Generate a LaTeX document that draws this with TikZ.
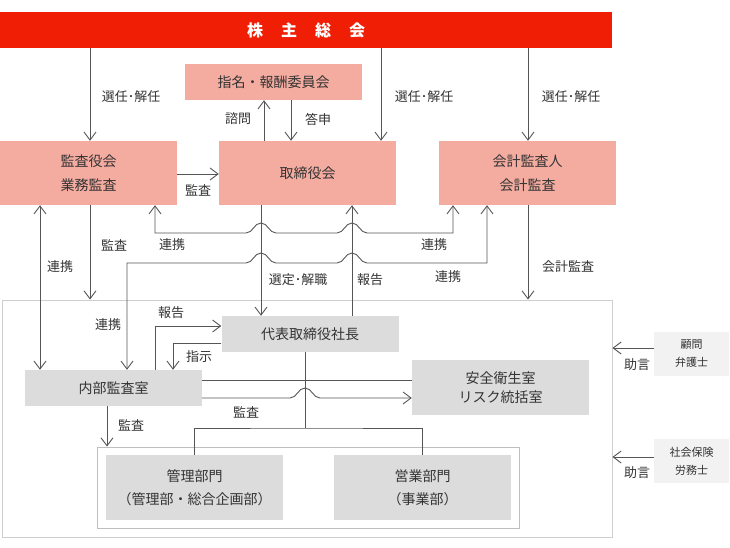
\documentclass[tikz,border=0pt]{standalone}
\usepackage{fontspec}
\setmainfont{Noto Sans CJK JP}
\usetikzlibrary{arrows.meta}

\definecolor{soukaired}{RGB}{240,30,4}
\definecolor{boardpink}{RGB}{244,172,160}
\definecolor{boxgray}{RGB}{220,220,220}
\definecolor{palegray}{RGB}{242,242,242}
\definecolor{linegray}{RGB}{85,85,85}
\definecolor{framegray}{RGB}{206,206,206}
\definecolor{innergray}{RGB}{190,190,190}
\definecolor{txt}{RGB}{51,51,51}

\begin{document}
\begin{tikzpicture}[x=1pt, y=-1pt,
	>={Straight Barb[length=8pt,width=12pt]},
	line/.style={draw=linegray, line width=0.9pt},
	arr/.style={line, ->},
	arr2/.style={line, <->},
	soukai/.style={fill=soukaired, text=white, minimum width=612pt, minimum height=36pt, inner sep=0pt, font=\fontsize{16}{18}\selectfont\bfseries},
	pinkbox/.style={fill=boardpink, text=txt, align=center, minimum width=177pt, minimum height=64pt, inner sep=0pt, font=\fontsize{14}{24}\selectfont},
	graybox/.style={fill=boxgray, text=txt, align=center, minimum width=177pt, minimum height=36pt, inner sep=0pt, font=\fontsize{14}{23}\selectfont},
	advbox/.style={fill=palegray, text=txt, align=center, minimum width=75pt, minimum height=44pt, inner sep=0pt, font=\fontsize{11}{18}\selectfont},
	frame/.style={draw=framegray, line width=0.9pt, inner sep=0pt},
	lbl/.style={text=txt, inner sep=0pt, font=\fontsize{13}{15}\selectfont}]

	\useasboundingbox (0,0) rectangle (730,548);

	% top level
	\node[soukai] (soukai) at (306,30) {株\hspace{18pt}主\hspace{18pt}総\hspace{18pt}会};
	\node[pinkbox, minimum height=36pt] (iinkai) at (273.5,82) {指名・報酬委員会};
	\node[pinkbox] (kansayaku) at (88.5,173) {監査役会\\業務監査};
	\node[pinkbox] (torishimari) at (307.5,173) {取締役会};
	\node[pinkbox] (kaikei) at (527.5,173) {会計監査人\\会計監査};

	% company frames
	\node[frame, minimum width=610pt, minimum height=237pt] (shanai) at (307,418.5) {};
	\node[frame, draw=innergray, minimum width=422pt, minimum height=81pt] (bumon) at (308,487.5) {};

	\node[graybox] (shacho) at (310,334) {代表取締役社長};
	\node[graybox] (naibu) at (113.5,388) {内部監査室};
	\node[graybox, minimum height=55pt, font=\fontsize{14}{19}\selectfont] (anzen) at (500.5,387.5) {安全衛生室\\リスク統括室};
	\node[graybox, minimum height=65pt] (kanri) at (194.5,487.5) {管理部門\\（管理部・総合企画部）};
	\node[graybox, minimum height=65pt] (eigyo) at (422.5,487.5) {営業部門\\（事業部）};

	% advisers
	\node[advbox] (komon) at (691.5,354) {顧問\\弁護士};
	\node[advbox] (sharoushi) at (691.5,461) {社会保険\\労務士};

	% shareholders
	\draw[arr] (soukai.south -| 90,0) -- (kansayaku.north -| 90,0);
	\draw[arr] (soukai.south -| 381,0) -- (torishimari.north -| 381,0);
	\draw[arr] (soukai.south -| 528,0) -- (kaikei.north -| 528,0);
	\node[lbl] (sennin1) at (131,97) {選任･解任};
	\node[lbl] (sennin2) at (424,97) {選任･解任};
	\node[lbl] (sennin3) at (571,97) {選任･解任};

	% committee
	\draw[arr] (torishimari.north -| 264,0) -- (iinkai.south -| 264,0);
	\draw[arr] (iinkai.south -| 291,0) -- (torishimari.north -| 291,0);
	\node[lbl] (shimon) at (238,119) {諮問};
	\node[lbl] (toushin) at (318,119) {答申};

	\draw[arr] (kansayaku.east |- 0,174) -- (torishimari.west |- 0,174);
	\node[lbl] (kansa1) at (198,190) {監査};

	% cooperation
	\draw[arr2] (kansayaku.south -| 40,0) -- (naibu.north -| 40,0);
	\node[lbl] (renkei1) at (60,267) {連携};
	\draw[arr] (kansayaku.south -| 90,0) -- (shanai.north -| 90,0);
	\node[lbl] (kansa2) at (114,245) {監査};

	\draw[arr2] (kansayaku.south -| 155,0) |- (246,233)
		to[out=0,in=180] ++(15,-10) to[out=0,in=180] ++(15,10) -- (337,233)
		to[out=0,in=180] ++(15,-10) to[out=0,in=180] ++(15,10) -| (kaikei.south -| 453,0);
	\node[lbl] (renkei2) at (172,245) {連携};
	\node[lbl] (renkei3) at (434,245) {連携};

	\draw[arr2] (naibu.north -| 127,0) |- (246,263)
		to[out=0,in=180] ++(15,-10) to[out=0,in=180] ++(15,10) -- (337,263)
		to[out=0,in=180] ++(15,-10) to[out=0,in=180] ++(15,10) -| (kaikei.south -| 487,0);
	\node[lbl] (renkei4) at (448,277) {連携};
	\node[lbl] (renkei5) at (108,325) {連携};

	% board and president
	\draw[arr] (torishimari.south -| 261,0) -- (shacho.north -| 261,0);
	\draw[arr] (shacho.north -| 352,0) -- (torishimari.south -| 352,0);
	\node[lbl] (sentei) at (298,280) {選定･解職};
	\node[lbl] (houkoku1) at (370,280) {報告};

	\draw[arr] (kaikei.south -| 528,0) -- (shanai.north -| 528,0);
	\node[lbl] (kaikeikansa) at (568,267) {会計監査};

	% internal audit
	\draw[arr] (naibu.north -| 155,0) |- (shacho.west |- 0,326);
	\node[lbl] (houkoku2) at (171,313) {報告};
	\draw[arr] (shacho.west |- 0,343) -| (naibu.north -| 173,0);
	\node[lbl] (shiji) at (199,357) {指示};

	\draw[line] (naibu.east |- 0,380) -- (anzen.west |- 0,380);
	\draw[arr] (naibu.east |- 0,398) -- (290,398)
		to[out=0,in=180] ++(15,-10) to[out=0,in=180] ++(15,10) -- (anzen.west |- 0,398);
	\node[lbl] (kansa3) at (246,412) {監査};
	\draw[arr] (naibu.south -| 107,0) -- (bumon.north -| 107,0);
	\node[lbl] (kansa4) at (131,425) {監査};

	% departments
	\coordinate (bunki) at (305,428);
	\draw[line] (shacho.south -| bunki) -- (bunki);
	\draw[line] (kanri.north) |- (bunki) -| (eigyo.north);

	% advice
	\draw[arr] (komon.west |- 0,348) -- (shanai.east |- 0,348);
	\node[lbl] (jogen1) at (637,365) {助言};
	\draw[arr] (sharoushi.west |- 0,457) -- (shanai.east |- 0,457);
	\node[lbl] (jogen2) at (637,473) {助言};

\end{tikzpicture}
\end{document}
